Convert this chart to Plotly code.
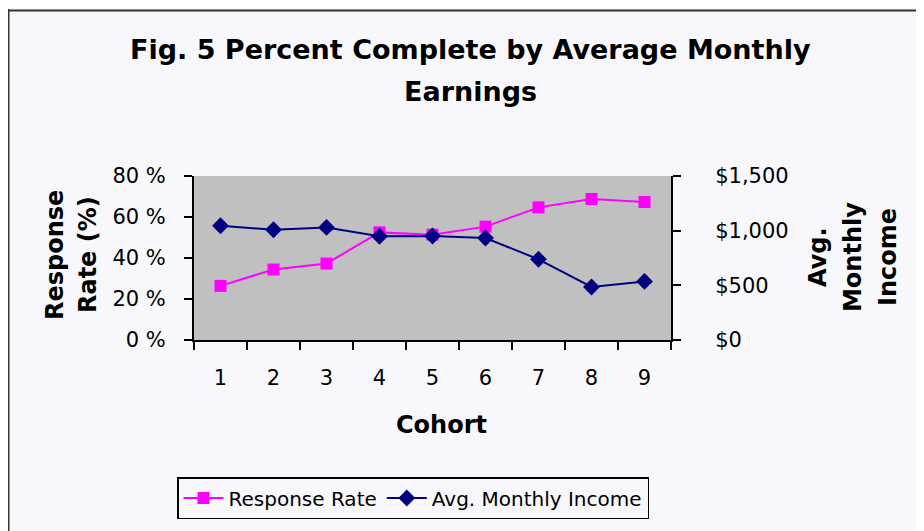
import plotly.graph_objects as go

# ---- data ----
cohorts = ["1", "2", "3", "4", "5", "6", "7", "8", "9"]
response_rate = [0.264, 0.344, 0.373, 0.525, 0.514, 0.553, 0.647, 0.688, 0.673]
monthly_income = [1045, 1009, 1030, 949, 951, 933, 738, 485, 536]
rate_ticks = [0, 0.2, 0.4, 0.6, 0.8]
rate_labels = ["0 %", "20 %", "40 %", "60 %", "80 %"]
income_ticks = [0, 500, 1000, 1500]
income_labels = ["$0", "$500", "$1,000", "$1,500"]

OFF = 8  # page body margin
W, H = 924 - OFF, 531 - OFF
# plot area in page pixels
PL, PR, PT, PB = 194, 671, 176, 342
L, R, T, B = PL - OFF, PR - OFF, PT - OFF, PB - OFF


def px_x(px):
    return (px - OFF - L) / (R - L)


def px_y(py):
    return (B - (py - OFF)) / (B - T)


FONT = "DejaVu Sans"

fig = go.Figure()
fig.add_trace(go.Scatter(
    x=cohorts, y=response_rate, name="Response Rate", mode="lines+markers",
    line=dict(color="#ff00ff", width=2),
    marker=dict(symbol="square", size=12, color="#ff00ff"),
    yaxis="y",
))
fig.add_trace(go.Scatter(
    x=cohorts, y=monthly_income, name="Avg. Monthly Income", mode="lines+markers",
    line=dict(color="#000080", width=2),
    marker=dict(symbol="diamond", size=13, color="#000080"),
    yaxis="y2",
))


def ann(text, x, y, size, angle=0):
    return dict(text=text, xref="paper", yref="paper", x=px_x(x), y=px_y(y),
                showarrow=False, xanchor="center", yanchor="middle",
                textangle=angle, font=dict(family=FONT, size=size))


fig.update_layout(
    width=W, height=H,
    margin=dict(l=L, r=W - R, t=T, b=H - B, pad=0),
    paper_bgcolor="#f8f8fc",
    plot_bgcolor="#c0c0c0",
    font=dict(family=FONT, color="black", size=20),
    showlegend=True,
    legend=dict(
        orientation="h", x=px_x(413), y=px_y(502), xanchor="center", yanchor="middle",
        bordercolor="black", borderwidth=1.5, bgcolor="rgba(0,0,0,0)",
        font=dict(family=FONT, size=20), itemwidth=40, tracegroupgap=0,
    ),
    xaxis=dict(
        type="category", range=[-0.5, 8.5], tickson="boundaries",
        showline=True, linecolor="black", linewidth=2,
        ticks="outside", ticklen=8, tickcolor="black", tickwidth=2,
        tickfont=dict(size=21), ticklabelstandoff=18,
        showgrid=False, zeroline=False, fixedrange=True,
    ),
    yaxis=dict(
        range=[0, 0.8], tickvals=rate_ticks, ticktext=rate_labels,
        showline=True, linecolor="black", linewidth=2,
        ticks="outside", ticklen=8, tickcolor="black", tickwidth=2,
        tickfont=dict(size=21), ticklabelstandoff=14,
        showgrid=False, zeroline=False, fixedrange=True,
    ),
    yaxis2=dict(
        range=[0, 1500], tickvals=income_ticks, ticktext=income_labels,
        overlaying="y", side="right",
        showline=True, linecolor="black", linewidth=2,
        ticks="outside", ticklen=8, tickcolor="black", tickwidth=2,
        tickfont=dict(size=21), ticklabelstandoff=30,
        showgrid=False, zeroline=False, fixedrange=True,
    ),
    shapes=[
        dict(type="line", xref="paper", yref="paper", layer="above",
             x0=px_x(8.5), x1=px_x(8.5), y0=px_y(7), y1=px_y(540),
             line=dict(color="#333333", width=2)),
        dict(type="line", xref="paper", yref="paper", layer="above",
             x0=px_x(8), x1=px_x(940), y0=px_y(8.5), y1=px_y(8.5),
             line=dict(color="#333333", width=2)),
    ],
    annotations=[
        ann("<b>Fig. 5 Percent Complete by Average Monthly</b>", 470, 48, 27),
        ann("<b>Earnings</b>", 470, 90, 27),
        ann("<b>Cohort</b>", 441, 428, 24),
        ann("<b>Response</b>", 55, 256, 24, -90),
        ann("<b>Rate (%)</b>", 88, 256, 24, -90),
        ann("<b>Avg.</b>", 818, 258, 24, -90),
        ann("<b>Monthly</b>", 853, 258, 24, -90),
        ann("<b>Income</b>", 888, 258, 24, -90),
    ],
)

fig.write_html("out.html")
